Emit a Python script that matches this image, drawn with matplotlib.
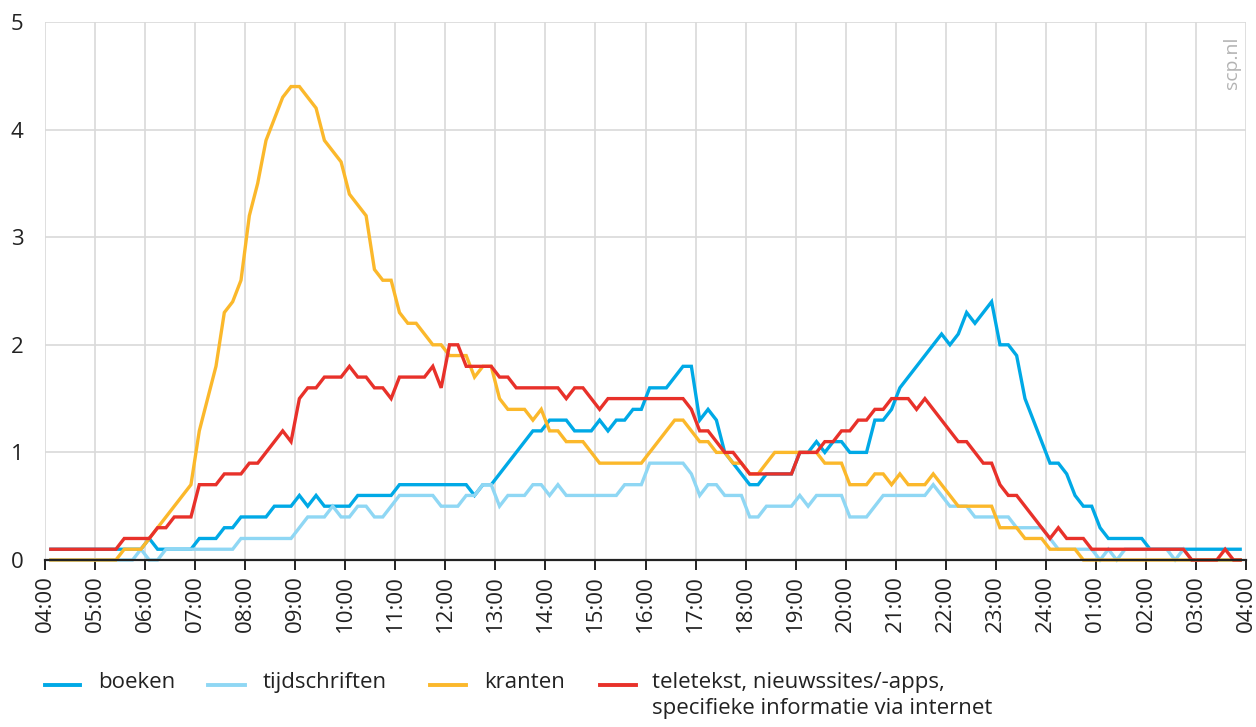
import matplotlib
matplotlib.use("Agg")
import matplotlib.pyplot as plt
from matplotlib.lines import Line2D
import numpy as np

plt.rcParams['font.family'] = ['Open Sans', 'DejaVu Sans']

# --- data: 10-minute intervals, 04:00 -> 04:00 (values plotted at interval centres)
boeken = [
    0.1, 0.1, 0.1, 0.1, 0.1, 0.1, 0.1, 0.1, 0.1, 0.1, 0.1, 0.1,
    0.2, 0.1, 0.1, 0.1, 0.1, 0.1, 0.2, 0.2, 0.2, 0.3, 0.3, 0.4,
    0.4, 0.4, 0.4, 0.5, 0.5, 0.5, 0.6, 0.5, 0.6, 0.5, 0.5, 0.5,
    0.5, 0.6, 0.6, 0.6, 0.6, 0.6, 0.7, 0.7, 0.7, 0.7, 0.7, 0.7,
    0.7, 0.7, 0.7, 0.6, 0.7, 0.7, 0.8, 0.9, 1.0, 1.1, 1.2, 1.2,
    1.3, 1.3, 1.3, 1.2, 1.2, 1.2, 1.3, 1.2, 1.3, 1.3, 1.4, 1.4,
    1.6, 1.6, 1.6, 1.7, 1.8, 1.8, 1.3, 1.4, 1.3, 1.0, 0.9, 0.8,
    0.7, 0.7, 0.8, 0.8, 0.8, 0.8, 1.0, 1.0, 1.1, 1.0, 1.1, 1.1,
    1.0, 1.0, 1.0, 1.3, 1.3, 1.4, 1.6, 1.7, 1.8, 1.9, 2.0, 2.1,
    2.0, 2.1, 2.3, 2.2, 2.3, 2.4, 2.0, 2.0, 1.9, 1.5, 1.3, 1.1,
    0.9, 0.9, 0.8, 0.6, 0.5, 0.5, 0.3, 0.2, 0.2, 0.2, 0.2, 0.2,
    0.1, 0.1, 0.1, 0.1, 0.1, 0.1, 0.1, 0.1, 0.1, 0.1, 0.1, 0.1,
]
tijdschriften = [
    0.0, 0.0, 0.0, 0.0, 0.0, 0.0, 0.0, 0.0, 0.0, 0.0, 0.0, 0.1,
    0.0, 0.0, 0.1, 0.1, 0.1, 0.1, 0.1, 0.1, 0.1, 0.1, 0.1, 0.2,
    0.2, 0.2, 0.2, 0.2, 0.2, 0.2, 0.3, 0.4, 0.4, 0.4, 0.5, 0.4,
    0.4, 0.5, 0.5, 0.4, 0.4, 0.5, 0.6, 0.6, 0.6, 0.6, 0.6, 0.5,
    0.5, 0.5, 0.6, 0.6, 0.7, 0.7, 0.5, 0.6, 0.6, 0.6, 0.7, 0.7,
    0.6, 0.7, 0.6, 0.6, 0.6, 0.6, 0.6, 0.6, 0.6, 0.7, 0.7, 0.7,
    0.9, 0.9, 0.9, 0.9, 0.9, 0.8, 0.6, 0.7, 0.7, 0.6, 0.6, 0.6,
    0.4, 0.4, 0.5, 0.5, 0.5, 0.5, 0.6, 0.5, 0.6, 0.6, 0.6, 0.6,
    0.4, 0.4, 0.4, 0.5, 0.6, 0.6, 0.6, 0.6, 0.6, 0.6, 0.7, 0.6,
    0.5, 0.5, 0.5, 0.4, 0.4, 0.4, 0.4, 0.4, 0.3, 0.3, 0.3, 0.3,
    0.2, 0.1, 0.1, 0.1, 0.1, 0.1, 0.0, 0.1, 0.0, 0.1, 0.1, 0.1,
    0.1, 0.1, 0.1, 0.0, 0.1, 0.0, 0.0, 0.0, 0.0, 0.0, 0.0, 0.0,
]
kranten = [
    0.0, 0.0, 0.0, 0.0, 0.0, 0.0, 0.0, 0.0, 0.0, 0.1, 0.1, 0.1,
    0.2, 0.3, 0.4, 0.5, 0.6, 0.7, 1.2, 1.5, 1.8, 2.3, 2.4, 2.6,
    3.2, 3.5, 3.9, 4.1, 4.3, 4.4, 4.4, 4.3, 4.2, 3.9, 3.8, 3.7,
    3.4, 3.3, 3.2, 2.7, 2.6, 2.6, 2.3, 2.2, 2.2, 2.1, 2.0, 2.0,
    1.9, 1.9, 1.9, 1.7, 1.8, 1.8, 1.5, 1.4, 1.4, 1.4, 1.3, 1.4,
    1.2, 1.2, 1.1, 1.1, 1.1, 1.0, 0.9, 0.9, 0.9, 0.9, 0.9, 0.9,
    1.0, 1.1, 1.2, 1.3, 1.3, 1.2, 1.1, 1.1, 1.0, 1.0, 0.9, 0.9,
    0.8, 0.8, 0.9, 1.0, 1.0, 1.0, 1.0, 1.0, 1.0, 0.9, 0.9, 0.9,
    0.7, 0.7, 0.7, 0.8, 0.8, 0.7, 0.8, 0.7, 0.7, 0.7, 0.8, 0.7,
    0.6, 0.5, 0.5, 0.5, 0.5, 0.5, 0.3, 0.3, 0.3, 0.2, 0.2, 0.2,
    0.1, 0.1, 0.1, 0.1, 0.0, 0.0, 0.0, 0.0, 0.0, 0.0, 0.0, 0.0,
    0.0, 0.0, 0.0, 0.0, 0.0, 0.0, 0.0, 0.0, 0.0, 0.0, 0.0, 0.0,
]
teletekst = [
    0.1, 0.1, 0.1, 0.1, 0.1, 0.1, 0.1, 0.1, 0.1, 0.2, 0.2, 0.2,
    0.2, 0.3, 0.3, 0.4, 0.4, 0.4, 0.7, 0.7, 0.7, 0.8, 0.8, 0.8,
    0.9, 0.9, 1.0, 1.1, 1.2, 1.1, 1.5, 1.6, 1.6, 1.7, 1.7, 1.7,
    1.8, 1.7, 1.7, 1.6, 1.6, 1.5, 1.7, 1.7, 1.7, 1.7, 1.8, 1.6,
    2.0, 2.0, 1.8, 1.8, 1.8, 1.8, 1.7, 1.7, 1.6, 1.6, 1.6, 1.6,
    1.6, 1.6, 1.5, 1.6, 1.6, 1.5, 1.4, 1.5, 1.5, 1.5, 1.5, 1.5,
    1.5, 1.5, 1.5, 1.5, 1.5, 1.4, 1.2, 1.2, 1.1, 1.0, 1.0, 0.9,
    0.8, 0.8, 0.8, 0.8, 0.8, 0.8, 1.0, 1.0, 1.0, 1.1, 1.1, 1.2,
    1.2, 1.3, 1.3, 1.4, 1.4, 1.5, 1.5, 1.5, 1.4, 1.5, 1.4, 1.3,
    1.2, 1.1, 1.1, 1.0, 0.9, 0.9, 0.7, 0.6, 0.6, 0.5, 0.4, 0.3,
    0.2, 0.3, 0.2, 0.2, 0.2, 0.1, 0.1, 0.1, 0.1, 0.1, 0.1, 0.1,
    0.1, 0.1, 0.1, 0.1, 0.1, 0.0, 0.0, 0.0, 0.0, 0.1, 0.0, 0.0,
]
series_labels = ["boeken", "tijdschriften", "kranten",
                 "teletekst, nieuwssites/-apps,\nspecifieke informatie via internet"]
series_colors = ["#00a9e6", "#8fd7f4", "#fbb82b", "#e8312a"]
hour_labels = ["04:00", "05:00", "06:00", "07:00", "08:00", "09:00", "10:00",
               "11:00", "12:00", "13:00", "14:00", "15:00", "16:00", "17:00",
               "18:00", "19:00", "20:00", "21:00", "22:00", "23:00", "24:00",
               "01:00", "02:00", "03:00", "04:00"]
y_ticks = [0, 1, 2, 3, 4, 5]

W, H = 1256, 727
fig = plt.figure(figsize=(W / 100, H / 100), dpi=100)
ax = fig.add_axes([45 / W, 1 - 560 / H, (1246 - 45) / W, (560 - 22) / H])

minutes = np.arange(len(boeken)) * 10 + 5
data = [boeken, tijdschriften, kranten, teletekst]
for vals, col in zip(data, series_colors):
    ax.plot(minutes, vals, color=col, lw=2.4, solid_joinstyle='miter',
            solid_capstyle='butt', zorder=3, clip_on=False)

ax.set_xlim(0, 1440)
ax.set_ylim(0, 5)
ax.set_xticks(np.arange(len(hour_labels)) * 60)
ax.set_xticklabels(hour_labels, rotation=90, fontsize=16, color="#222222")
ax.set_yticks(y_ticks)
ax.set_yticklabels([str(v) for v in y_ticks], fontsize=16, color="#222222")

ax.grid(True, color="#d9d9d9", lw=1.2, zorder=0)
ax.set_axisbelow(True)
for s in ["left", "right", "top"]:
    ax.spines[s].set_visible(False)
ax.spines["bottom"].set_color("#222222")
ax.spines["bottom"].set_linewidth(1.6)
ax.spines["bottom"].set_zorder(4)
ax.tick_params(axis="x", direction="out", length=7, width=1.4, color="#222222", pad=4)
ax.tick_params(axis="y", length=0, pad=20)
for lbl in ax.get_yticklabels():
    lbl.set_horizontalalignment("center")

# watermark
fig.text(1232 / W, 1 - 37 / H, "scp.nl", rotation=90, ha="center", va="top",
         fontsize=14, color="#b3b3b3")

# legend (manual)
leg_y = 1 - 685 / H
handles_x = [(45, 80), (208, 245), (430, 466), (600, 636)]
text_x = [98, 263, 484, 652]
for (x0, x1), tx, lab, col in zip(handles_x, text_x, series_labels, series_colors):
    fig.add_artist(Line2D([x0 / W, x1 / W], [leg_y, leg_y], color=col, lw=2.8,
                          transform=fig.transFigure))
    fig.text(tx / W, leg_y + 13 / H, lab, ha="left", va="top", fontsize=16,
             color="#222222", linespacing=1.3)

fig.savefig("out.png", dpi=100)
